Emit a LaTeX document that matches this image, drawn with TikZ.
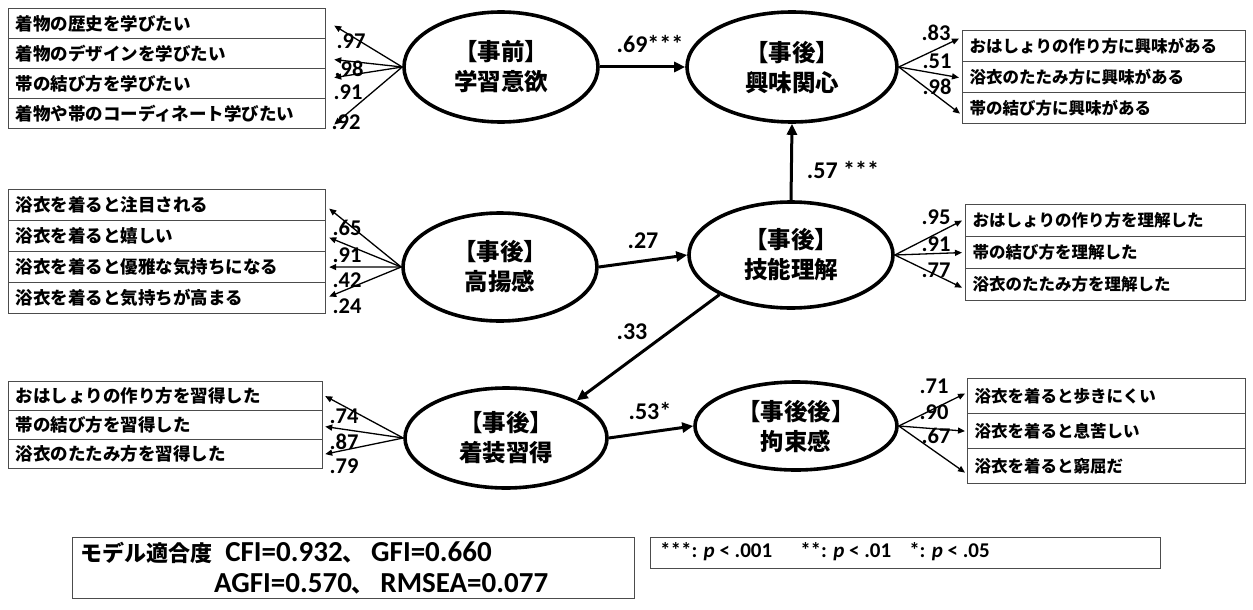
\documentclass[tikz,border=0pt]{standalone}
\usepackage{fontspec}
\setmainfont{Carlito}
\newfontfamily\jp{Noto Sans CJK JP}
\usetikzlibrary{shapes.geometric,arrows.meta,calc}
\begin{document}
\begin{tikzpicture}[x=1pt,y=-1pt,
  lat/.style={ellipse,draw,line width=3.6pt,inner sep=0pt,align=center,
    font=\jp\bfseries\fontsize{23.5}{30}\selectfont},
  item/.style={draw=black!70,line width=1.2pt,anchor=north west,inner xsep=7pt,
    inner ysep=0pt,align=left,font=\jp\bfseries\fontsize{17.5}{20}\selectfont},
  itemr/.style={item,font=\jp\bfseries\fontsize{16.5}{20}\selectfont},
  path/.style={line width=3pt,-{Triangle[length=11pt,width=10pt]}},
  load/.style={line width=1.3pt,-{Triangle[length=7pt,width=6pt]}},
  lab/.style={font=\bfseries\fontsize{22.5}{24}\selectfont,inner sep=0pt},
  plab/.style={font=\bfseries\fontsize{24}{26}\selectfont,inner sep=0pt},
  infobox/.style={draw=black!70,line width=1.2pt}]
\useasboundingbox (0,0) rectangle (1253,610);
\fill[white] (0,0) rectangle (1253,610);

% latent variables
\node[lat,minimum width=194pt,minimum height=110pt] (E1) at (501,67) {【事前】\\学習意欲};
\node[lat,minimum width=210pt,minimum height=110pt] (E2) at (792,67) {【事後】\\興味関心};
\node[lat,minimum width=194pt,minimum height=108pt] (E3) at (500,267) {【事後】\\高揚感};
\node[lat,minimum width=204pt,minimum height=106pt] (E4) at (791,255) {【事後】\\技能理解};
\node[lat,minimum width=202pt,minimum height=100pt] (E5) at (506,438) {【事後】\\着装習得};
\node[lat,minimum width=202pt,minimum height=88pt] (E6) at (796,426) {【事後後】\\拘束感};

% left group A
\node[item,text width=303pt,minimum height=30pt] (a1) at (8,8) {着物の歴史を学びたい};
\node[item,text width=303pt,minimum height=30pt] (a2) at (8,38) {着物のデザインを学びたい};
\node[item,text width=303pt,minimum height=30pt] (a3) at (8,68) {帯の結び方を学びたい};
\node[item,text width=303pt,minimum height=30pt] (a4) at (8,98) {着物や帯のコーディネート学びたい};
% left group B
\node[item,text width=303pt,minimum height=31pt] (b1) at (8,189) {浴衣を着ると注目される};
\node[item,text width=303pt,minimum height=31pt] (b2) at (8,220) {浴衣を着ると嬉しい};
\node[item,text width=303pt,minimum height=31pt] (b3) at (8,251) {浴衣を着ると優雅な気持ちになる};
\node[item,text width=303pt,minimum height=31pt] (b4) at (8,282) {浴衣を着ると気持ちが高まる};
% left group C
\node[item,text width=300pt,minimum height=29pt] (c1) at (8,381) {おはしょりの作り方を習得した};
\node[item,text width=300pt,minimum height=29pt] (c2) at (8,410) {帯の結び方を習得した};
\node[item,text width=300pt,minimum height=29pt] (c3) at (8,439) {浴衣のたたみ方を習得した};
% right group D
\node[itemr,text width=269pt,minimum height=31pt] (d1) at (962,30) {おはしょりの作り方に興味がある};
\node[itemr,text width=269pt,minimum height=31pt] (d2) at (962,61) {浴衣のたたみ方に興味がある};
\node[itemr,text width=269pt,minimum height=31pt] (d3) at (962,92) {帯の結び方に興味がある};
% right group F
\node[itemr,text width=266pt,minimum height=32pt] (f1) at (965,204) {おはしょりの作り方を理解した};
\node[itemr,text width=266pt,minimum height=32pt] (f2) at (965,236) {帯の結び方を理解した};
\node[itemr,text width=266pt,minimum height=32pt] (f3) at (965,268) {浴衣のたたみ方を理解した};
% right group G
\node[itemr,text width=264pt,minimum height=35pt] (g1) at (967,378) {浴衣を着ると歩きにくい};
\node[itemr,text width=264pt,minimum height=35pt] (g2) at (967,413) {浴衣を着ると息苦しい};
\node[itemr,text width=264pt,minimum height=35pt] (g3) at (967,448) {浴衣を着ると窮屈だ};

% loading arrows
\draw[load] (E1.west) -- ([shift={(8,2)}]a1.east);
\draw[load] (E1.west) -- ([shift={(8,6)}]a2.east);
\draw[load] (E1.west) -- ([shift={(8,-6)}]a3.east);
\draw[load] (E1.west) -- ([shift={(8,11)}]a4.east);
\draw[load] (E3.west) -- ([shift={(3,3.5)}]b1.east);
\draw[load] (E3.west) -- ([shift={(3,1.5)}]b2.east);
\draw[load] (E3.west) -- ([shift={(3,0)}]b3.east);
\draw[load] (E3.west) -- ([shift={(3,-1.5)}]b4.east);
\draw[load] (E5.west) -- ([shift={(2,0)}]c1.east);
\draw[load] (E5.west) -- ([shift={(2,1.5)}]c2.east);
\draw[load] (E5.west) -- ([shift={(2,0)}]c3.east);
\draw[load] (E2.east) -- ([shift={(-3,-7.5)}]d1.west);
\draw[load] (E2.east) -- ([shift={(-3,0.5)}]d2.west);
\draw[load] (E2.east) -- ([shift={(-2,5.5)}]d3.west);
\draw[load] (E4.east) -- ([shift={(-3,0)}]f1.west);
\draw[load] (E4.east) -- ([shift={(-3,0)}]f2.west);
\draw[load] (E4.east) -- ([shift={(-3,3)}]f3.west);
\draw[load] (E6.east) -- ([shift={(-2,-2.5)}]g1.west);
\draw[load] (E6.east) -- ([shift={(-2,0)}]g2.west);
\draw[load] (E6.east) -- ([shift={(-2,6.5)}]g3.west);

% loading labels
\node[lab] (la1) at (351,41) {.97};
\node[lab] (la2) at (349,69) {.98};
\node[lab] (la3) at (348,92) {.91};
\node[lab] (la4) at (346,122) {.92};
\node[lab] (lb1) at (347,228) {.65};
\node[lab] (lb2) at (347,255) {.91};
\node[lab] (lb3) at (347,280) {.42};
\node[lab] (lb4) at (347,306) {.24};
\node[lab] (lc1) at (344,416) {.74};
\node[lab] (lc2) at (344,442) {.87};
\node[lab] (lc3) at (344,466) {.79};
\node[lab] (ld1) at (936,33) {.83};
\node[lab] (ld2) at (937,61) {.51};
\node[lab] (ld3) at (937,87) {.98};
\node[lab] (lf1) at (936,217) {.95};
\node[lab] (lf2) at (936,244) {.91};
\node[lab] (lf3) at (936,270) {.77};
\node[lab] (lg1) at (934,386) {.71};
\node[lab] (lg2) at (934,412) {.90};
\node[lab] (lg3) at (936,436) {.67};

% structural paths
\draw[path] (E1.east) -- (E2.west);
\draw[path] (E3.east) -- (E4.west);
\draw[path] (E4.north) -- (E2.south);
\draw[path] (E4.209) -- (E5.28);
\draw[path] (E5.east) -- (E6.west);
\node[plab] (p1) at (650,44) {.69***};
\node[plab] (p2) at (643,241) {.27};
\node[plab] (p3) at (843,170) {.57 ***};
\node[plab] (p4) at (632,332) {.33};
\node[plab] (p5) at (650,411) {.53*};

% fit and legend boxes
\node[infobox,anchor=north west,minimum width=562pt,minimum height=61pt,inner sep=0pt] (fit) at (72,537) {};
\node[anchor=west,inner sep=0pt,font=\bfseries\fontsize{29}{32}\selectfont] (fit1) at (80,553)
  {{\jp\fontsize{22}{26}\selectfont モデル適合度}\ \ CFI=0.932{\jp\fontsize{22}{26}\selectfont 、}\ GFI=0.660};
\node[anchor=west,inner sep=0pt,font=\bfseries\fontsize{29}{32}\selectfont] (fit2) at (214,584)
  {AGFI=0.570{\jp\fontsize{22}{26}\selectfont 、}\ RMSEA=0.077};
\node[infobox,anchor=north west,minimum width=510pt,minimum height=31pt,inner sep=0pt] (leg) at (650,537) {};
\node[anchor=west,inner sep=0pt,font=\bfseries\fontsize{21}{24}\selectfont] (leg1) at (660,552)
  {***: \textit{p} < .001\hspace{28pt}**: \textit{p} < .01\hspace{18pt}*: \textit{p} < .05};
\end{tikzpicture}
\end{document}
